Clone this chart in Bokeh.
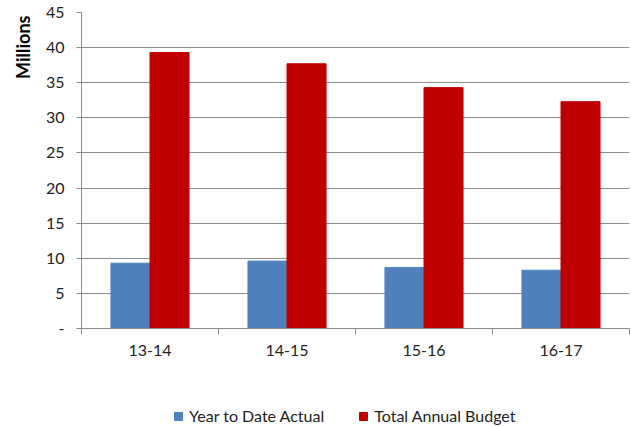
from bokeh.plotting import figure
from bokeh.layouts import column
from bokeh.models import ColumnDataSource, FixedTicker, Legend, LegendItem, Title, Range1d
from bokeh.embed import file_html
from bokeh.resources import INLINE

categories = ["13-14", "14-15", "15-16", "16-17"]
ytd_actual = [9.3, 9.6, 8.7, 8.3]
annual_budget = [39.3, 37.7, 34.3, 32.3]
y_ticks = [0, 5, 10, 15, 20, 25, 30, 35, 40, 45]
series_names = ["Year to Date Actual", "Total Annual Budget"]

FONT = "Lato"
GRID = "#8c8c8c"
BLUE = "#4F81BD"
RED = "#C00000"

idx = list(range(len(categories)))
src = ColumnDataSource(dict(
    xa=[i + 0.5 - 0.1425 for i in idx],
    xb=[i + 0.5 + 0.1425 for i in idx],
    ytd=ytd_actual,
    bud=annual_budget,
))

p = figure(width=631, height=375, output_backend="svg", toolbar_location=None,
           x_range=Range1d(0, len(categories)), y_range=Range1d(0, 45),
           min_border_left=81, min_border_right=2, min_border_top=12, min_border_bottom=47)
p.outline_line_color = None
p.background_fill_color = "white"
p.border_fill_color = "white"

p.vbar(x="xa", top="ytd", width=0.285, source=src, fill_color=BLUE, line_color=BLUE)
p.vbar(x="xb", top="bud", width=0.285, source=src, fill_color=RED, line_color=RED)

# y axis
p.yaxis.ticker = FixedTicker(ticks=y_ticks)
p.yaxis.major_label_overrides = {0: "-"}
p.yaxis.axis_line_color = GRID
p.yaxis.major_tick_line_color = GRID
p.yaxis.major_tick_out = 5
p.yaxis.major_tick_in = 0
p.yaxis.minor_tick_line_color = None
p.yaxis.major_label_text_font = FONT
p.yaxis.major_label_text_font_size = "16px"
p.yaxis.major_label_text_color = "#222222"
p.yaxis.major_label_standoff = 12

# x axis: labels at centres, ticks at boundaries
p.xaxis.ticker = FixedTicker(ticks=[i + 0.5 for i in idx], minor_ticks=list(range(len(categories) + 1)))
p.xaxis.major_label_overrides = {i + 0.5: c for i, c in zip(idx, categories)}
p.xaxis.major_tick_line_color = None
p.xaxis.minor_tick_line_color = GRID
p.xaxis.minor_tick_out = 6
p.xaxis.minor_tick_in = 0
p.xaxis.axis_line_color = GRID
p.xaxis.major_label_text_font = FONT
p.xaxis.major_label_text_font_size = "16px"
p.xaxis.major_label_text_color = "#222222"
p.xaxis.major_label_standoff = 10

p.xgrid.grid_line_color = None
p.ygrid.grid_line_color = GRID
p.ygrid.grid_line_width = 1

ttl = Title(text="Millions", align="right", text_font=FONT, text_font_size="18px",
            text_font_style="bold", text_color="#000000", standoff=18, offset=3)
p.add_layout(ttl, "left")

# legend strip below the chart
p2 = figure(width=631, height=52, output_backend="svg", toolbar_location=None,
            x_range=Range1d(0, 1), y_range=Range1d(0, 1),
            x_axis_location=None, y_axis_location=None,
            min_border=0, min_border_left=0, min_border_right=0, min_border_top=0, min_border_bottom=0)
p2.grid.visible = False
p2.outline_line_color = None
p2.border_fill_color = "white"
p2.background_fill_color = "white"
swatch = ColumnDataSource(dict(x=[-5], top=[-5]))
lb = p2.vbar(x="x", top="top", width=0.1, source=swatch, fill_color=BLUE, line_color=BLUE)
lr = p2.vbar(x="x", top="top", width=0.1, source=swatch, fill_color=RED, line_color=RED)

legend = Legend(items=[LegendItem(label=series_names[0], renderers=[lb]),
                       LegendItem(label=series_names[1], renderers=[lr])],
                orientation="horizontal", location=(92, 2),
                label_text_font=FONT, label_text_font_size="16px", label_text_color="#222222",
                glyph_width=10, glyph_height=10, label_standoff=6, spacing=34,
                border_line_color=None, background_fill_alpha=0, margin=0, padding=0)
p2.add_layout(legend)

open("out.html", "w").write(file_html(column(p, p2, spacing=0), INLINE))
